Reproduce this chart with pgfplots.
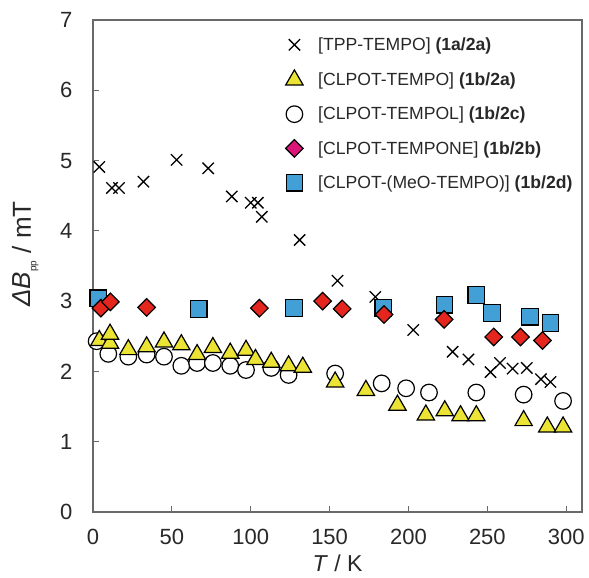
\documentclass[border=0pt]{standalone}
\usepackage{fontspec}
\setmainfont{Liberation Sans}
\usepackage{pgfplots}
\pgfplotsset{compat=1.18}

\definecolor{axisgray}{RGB}{105,105,105}
\definecolor{labelgray}{RGB}{40,40,40}
\definecolor{triyellow}{RGB}{236,228,52}
\definecolor{diared}{RGB}{228,38,30}
\definecolor{diamagenta}{RGB}{220,22,120}
\definecolor{sqblue}{RGB}{66,160,214}

\begin{document}
\begin{tikzpicture}
\useasboundingbox (0,0) rectangle (589pt,578pt);
\begin{axis}[
  at={(93pt,66pt)}, anchor=south west,
  scale only axis, width=489pt, height=492pt,
  xmin=0, xmax=310, ymin=0, ymax=7,
  xtick={0,50,...,300}, ytick={0,1,...,7},
  tick align=inside, tick pos=left, major tick length=6pt,
  axis line style={draw=axisgray, line width=1.6pt},
  every tick/.style={draw=axisgray, line width=1pt},
  ticklabel style={font=\fontsize{22}{26}\selectfont, text=labelgray},
  /pgf/number format/assume math mode=true,
  xticklabel style={yshift=-14pt},
  yticklabel style={xshift=-17pt},
  xlabel={\textit{T} / K},
  ylabel={\textit{ΔB}\raisebox{-0.4ex}{\fontsize{10}{12}\selectfont pp} / mT},
  xlabel style={font=\fontsize{23}{27}\selectfont, text=labelgray, yshift=-3pt},
  ylabel style={font=\fontsize{26}{30}\selectfont, text=labelgray, yshift=15pt, xshift=12pt},
  legend style={at={(axis cs:122,6.78)}, anchor=north west, draw=none, fill=none,
    font=\fontsize{17.6}{21}\selectfont, text=labelgray, row sep=16pt,
    inner sep=0pt,
    /tikz/every odd column/.append style={column sep=13pt}},
  legend cell align=left,
  clip=false,
]

% frame: top and right edges
\draw[axisgray, line width=1.6pt] (rel axis cs:0,1) -- (rel axis cs:1,1) -- (rel axis cs:1,0);

% legend entries
\addlegendimage{only marks, mark=x, mark size=8pt, line width=1.3pt, draw=black}
\addlegendentry{[TPP-TEMPO] \textbf{(1a/2a)}}
\addlegendimage{only marks, mark=triangle*, mark size=10pt, line width=1.2pt, draw=black, fill=triyellow}
\addlegendentry{[CLPOT-TEMPO] \textbf{(1b/2a)}}
\addlegendimage{only marks, mark=*, mark size=8.3pt, line width=1.2pt, draw=black, fill=white}
\addlegendentry{[CLPOT-TEMPOL] \textbf{(1b/2c)}}
\addlegendimage{only marks, mark=square*, mark options={rotate=45}, mark size=6.2pt, line width=1.2pt, draw=black, fill=diamagenta}
\addlegendentry{[CLPOT-TEMPONE] \textbf{(1b/2b)}}
\addlegendimage{only marks, mark=square*, mark size=8.3pt, line width=1.2pt, draw=black, fill=sqblue}
\addlegendentry{[CLPOT-(MeO-TEMPO)] \textbf{(1b/2d)}}

% [TPP-TEMPO]
\addplot[forget plot, only marks, mark=x, mark size=8pt, line width=1.3pt, draw=black]
coordinates {
 (4,4.91) (12,4.61) (16.5,4.61) (32,4.70) (53,5.01) (73,4.89) (88,4.49)
 (100,4.40) (104.5,4.40) (107,4.20) (131,3.87) (155,3.29) (179,3.06)
 (203,2.59) (228,2.28) (238,2.17) (252,1.99) (258,2.12) (266,2.04)
 (275,2.05) (284,1.89) (290,1.85)
};

% [CLPOT-(MeO-TEMPO)]
\addplot[forget plot, only marks, mark=square*, mark size=8.3pt, line width=1.2pt, draw=black, fill=sqblue]
coordinates {
 (3.4,3.04) (67,2.89) (127.5,2.90) (184,2.90) (222.8,2.95) (243,3.09)
 (253,2.83) (277,2.78) (290,2.69)
};

% [CLPOT-TEMPONE]
\addplot[forget plot, only marks, mark=square*, mark options={rotate=45}, mark size=6.2pt, line width=1.2pt, draw=black, fill=diared]
coordinates {
 (5,2.90) (11,2.99) (34,2.91) (105.5,2.90) (145.6,3.00) (158,2.89)
 (184.5,2.81) (222.6,2.74) (254,2.49) (271,2.49) (285,2.44)
};

% [CLPOT-TEMPOL]
\addplot[forget plot, only marks, mark=*, mark size=8.3pt, line width=1.2pt, draw=black, fill=white]
coordinates {
 (2.3,2.43) (9.7,2.25) (22.4,2.21) (34,2.24) (45,2.21) (56,2.08) (66,2.12)
 (76,2.12) (87,2.08) (97,2.02) (113,2.05) (124,1.95) (153.5,1.97)
 (183,1.83) (198.5,1.76) (213,1.70) (243,1.70) (273,1.67) (298,1.58)
};

% [CLPOT-TEMPO]
\addplot[forget plot, only marks, mark=triangle*, mark size=10pt, line width=1.2pt, draw=black, fill=triyellow]
coordinates {
 (4,2.44) (10.8,2.40) (10.8,2.53) (22.4,2.31) (34,2.35) (45,2.42) (56,2.38)
 (66,2.24) (76,2.34) (87,2.26) (97,2.30) (103,2.17) (113,2.13) (124,2.08)
 (133,2.06) (153.5,1.85) (173,1.73) (193,1.52) (211,1.38) (223,1.44)
 (233,1.37) (243,1.37) (273,1.30) (288,1.21) (298,1.21)
};

\end{axis}
\end{tikzpicture}
\end{document}
